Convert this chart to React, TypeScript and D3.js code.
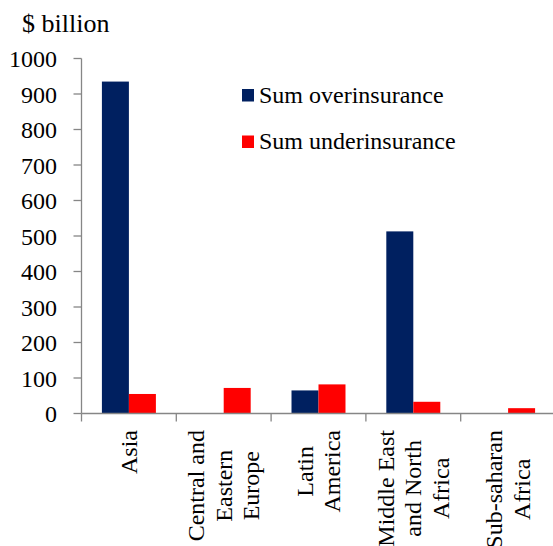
import React from "react";
import * as d3 from "d3";

const categories = ["Asia", "Central and Eastern Europe", "Latin America", "Middle East and North Africa", "Sub-saharan Africa"];
const categoryLines = [["Asia"], ["Central and", "Eastern", "Europe"], ["Latin", "America"], ["Middle East", "and North", "Africa"], ["Sub-saharan", "Africa"]];
const seriesNames = ["Sum overinsurance", "Sum underinsurance"];
const overinsurance = [935, 0, 65, 513, 0];
const underinsurance = [55, 72, 82, 33, 15];
const yTicks = [0, 100, 200, 300, 400, 500, 600, 700, 800, 900, 1000];
const colors = ["#002060", "#FF0000"];

const W = 553;
const H = 546;
const FONT = "Liberation Serif, Tinos, Times New Roman, DejaVu Serif, serif";
const FS = 24;

function measure(text: string): number {
  if (typeof document === "undefined") return text.length * FS * 0.45;
  const c = document.createElement("canvas");
  const ctx = c.getContext("2d");
  if (!ctx) return text.length * FS * 0.45;
  ctx.font = `${FS}px ${FONT}`;
  return ctx.measureText(text).width;
}

export default function App() {
  const left = 81.5;
  const right = 555.5;
  const top = 58.5;
  const bottom = 413.5;
  const x0 = d3.scaleBand<string>().domain(categories).range([left, right]).paddingInner(0).paddingOuter(0);
  const x1 = d3.scaleBand<string>().domain(seriesNames).range([0, x0.bandwidth()]).paddingInner(0).paddingOuter(0.756);
  const y = d3.scaleLinear().domain([0, 1000]).range([bottom, top]);
  const values = [overinsurance, underinsurance];
  const axisColor = "#868686";
  const lineH = 27.5;
  const labelTop = 430;

  return (
    <svg width={W} height={H} style={{ position: "absolute", left: 0, top: 0, background: "#fff", fontFamily: FONT }}>
      <text x={22} y={32} fontSize={26} fill="#000">$ billion</text>
      {values.map((vals, si) =>
        categories.map((c, ci) => {
          const v = vals[ci];
          if (!v) return null;
          return (
            <rect key={`${si}-${ci}`} x={(x0(c) as number) + (x1(seriesNames[si]) as number)} y={y(v)} width={x1.bandwidth()} height={bottom - y(v)} fill={colors[si]} />
          );
        })
      )}
      <line x1={left} x2={left} y1={top} y2={bottom} stroke={axisColor} strokeWidth={1.3} />
      {yTicks.map((t) => (
        <g key={t}>
          <line x1={left - 8} x2={left} y1={y(t)} y2={y(t)} stroke={axisColor} strokeWidth={1.3} />
          <text x={57} y={y(t) + 8.5} textAnchor="end" fontSize={FS} fill="#000">{t}</text>
        </g>
      ))}
      <line x1={left} x2={W} y1={bottom} y2={bottom} stroke={axisColor} strokeWidth={1.3} />
      {categories.map((c) => (
        <line key={c} x1={x0(c) as number} x2={x0(c) as number} y1={bottom} y2={bottom + 8} stroke={axisColor} strokeWidth={1.3} />
      ))}
      {categories.map((c, ci) => {
        const lines = categoryLines[ci];
        const widths = lines.map(measure);
        const maxW = Math.max(...widths);
        const cy = labelTop + maxW / 2;
        const cx = (x0(c) as number) + x0.bandwidth() / 2;
        const n = lines.length;
        return (
          <g key={c}>
            {lines.map((ln, li) => {
              const lx = cx + (li - (n - 1) / 2) * lineH + 8;
              return (
                <text key={li} transform={`translate(${lx},${cy}) rotate(-90)`} textAnchor="middle" fontSize={FS} fill="#000">{ln}</text>
              );
            })}
          </g>
        );
      })}
      {seriesNames.map((s, i) => (
        <g key={s}>
          <rect x={242} y={89 + i * 46.5} width={12} height={12.5} fill={colors[i]} />
          <text x={259} y={103 + i * 45.5} fontSize={FS} fill="#000">{s}</text>
        </g>
      ))}
    </svg>
  );
}
